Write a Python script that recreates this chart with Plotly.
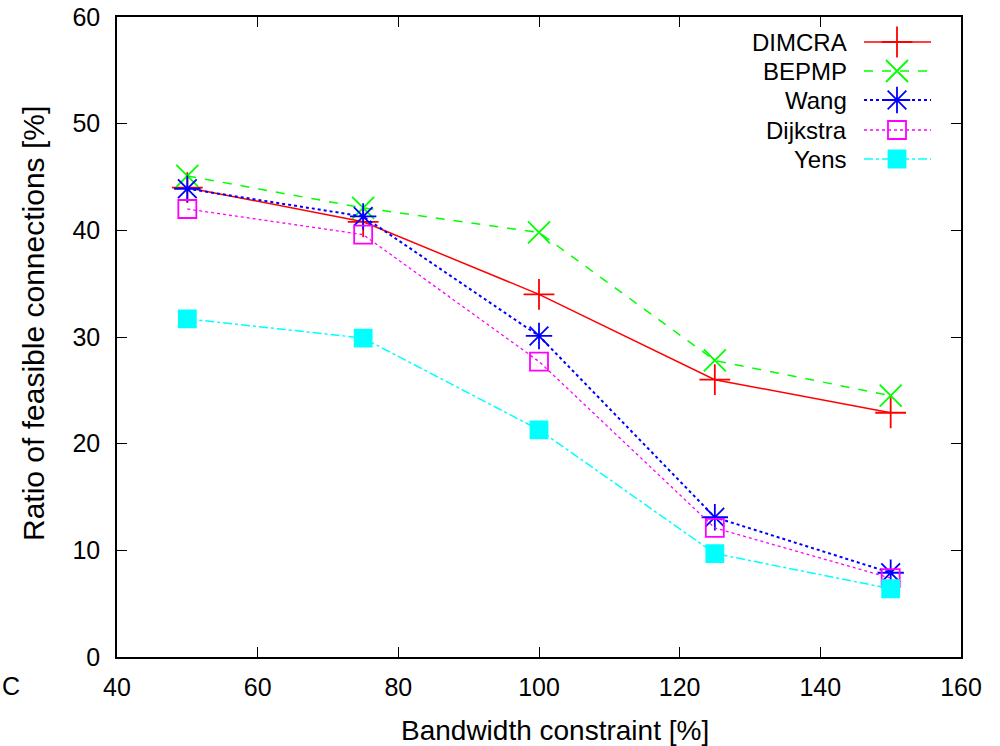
import plotly.graph_objects as go

x_vals = [50, 75, 100, 125, 150]
dimcra = [44.0, 40.8, 34.0, 26.0, 22.9]
bepmp = [45.1, 42.1, 39.8, 27.8, 24.5]
wang = [43.9, 41.3, 30.1, 13.1, 7.9]
dijkstra = [42.0, 39.6, 27.7, 12.1, 7.4]
yens = [31.7, 29.9, 21.3, 9.7, 6.4]

series_names = ["DIMCRA", "BEPMP", "Wang", "Dijkstra", "Yens"]
series_vals = [dimcra, bepmp, wang, dijkstra, yens]
colors = ["#ff0000", "#00ff00", "#0000ff", "#ff00ff", "#00ffff"]
dashes = ["solid", "dash", "dot", "dot", "dashdot"]
symbols = ["cross-thin-open", "x-thin-open", "asterisk-open", "square-open", "square"]
sizes = [22, 22, 22, 18, 17]
widths = [1.5, 1.5, 2, 1.3, 1.5]

FONT = "Liberation Sans"
L, R, T, B = 117, 961, 17, 657
W, H = R - L, B - T
fig = go.Figure()

for name, vals, c, d, s, sz, w in zip(series_names, series_vals, colors, dashes, symbols, sizes, widths):
    fig.add_trace(go.Scatter(
        x=x_vals, y=vals, name=name, mode="lines+markers",
        line=dict(color=c, dash=d, width=w),
        marker=dict(symbol=s, size=sz, color=c, line=dict(color=c, width=1.8)),
        showlegend=False,
    ))

# manual gnuplot-style legend (text left, sample right) on a pixel overlay axis
leg_rows = [42, 71, 100, 130, 159]
for name, c, d, s, sz, w, yy in zip(series_names, colors, dashes, symbols, sizes, widths, leg_rows):
    fig.add_trace(go.Scatter(
        x=[864, 931], y=[yy, yy], mode="lines", xaxis="x2", yaxis="y2",
        line=dict(color=c, dash=d, width=w), showlegend=False, hoverinfo="skip",
    ))
    fig.add_trace(go.Scatter(
        x=[897], y=[yy], mode="markers", xaxis="x2", yaxis="y2",
        marker=dict(symbol=s, size=sz, color=c, line=dict(color=c, width=1.8)),
        showlegend=False, hoverinfo="skip",
    ))
    fig.add_annotation(x=849, y=yy, xref="x2", yref="y2", text=name, showarrow=False,
                       xanchor="right", yanchor="middle",
                       font=dict(family=FONT, size=24, color="black"))

axis_common = dict(
    showline=True, linecolor="black", linewidth=1.5, mirror="ticks",
    ticks="inside", ticklen=10, tickcolor="black", tickwidth=1,
    showgrid=False, zeroline=False, automargin=False,
    tickfont=dict(family=FONT, size=25, color="black"),
)

fig.update_layout(
    width=1000, height=746,
    margin=dict(l=L, r=1000 - R, t=T, b=746 - B, autoexpand=False),
    paper_bgcolor="white", plot_bgcolor="white",
    xaxis=dict(range=[40, 160], tickvals=[40, 60, 80, 100, 120, 140, 160],
               ticklabelstandoff=7, **axis_common),
    yaxis=dict(range=[0, 60], tickvals=[0, 10, 20, 30, 40, 50, 60],
               ticklabelstandoff=10, **axis_common),
    xaxis2=dict(overlaying="x", range=[L, R], visible=False, domain=[0, 1]),
    yaxis2=dict(overlaying="y", range=[B, T], visible=False, domain=[0, 1]),
)

# axis titles
fig.add_annotation(x=(555 - L) / W, y=(B - 730) / H, xref="paper", yref="paper",
                   text="Bandwidth constraint [%]", showarrow=False,
                   xanchor="center", yanchor="middle",
                   font=dict(family=FONT, size=28, color="black"))
fig.add_annotation(x=(33 - L) / W, y=(B - 324) / H, xref="paper", yref="paper",
                   text="Ratio of feasible connections [%]", showarrow=False, textangle=-90,
                   xanchor="center", yanchor="middle",
                   font=dict(family=FONT, size=30, color="black"))

fig.add_annotation(x=(0 - L) / W, y=(B - 686) / H, xref="paper", yref="paper",
                   text="C", showarrow=False, xanchor="left", yanchor="middle",
                   font=dict(family=FONT, size=25, color="black"))

fig.write_html("out.html")
